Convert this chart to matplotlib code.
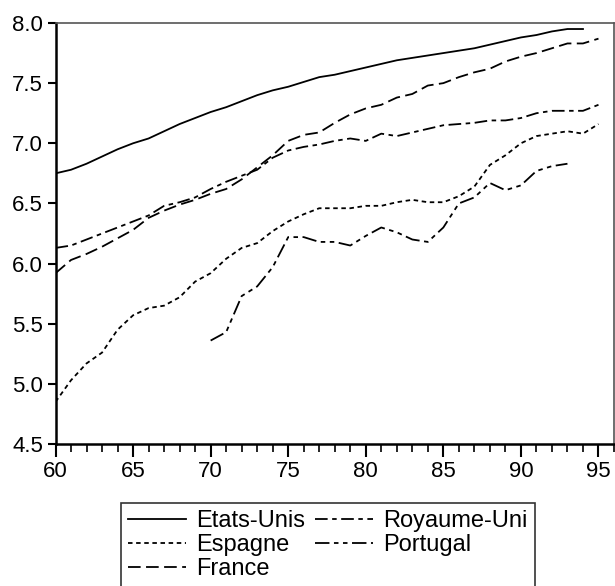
import matplotlib
matplotlib.use("Agg")
import matplotlib.pyplot as plt
from matplotlib.ticker import MultipleLocator, FormatStrFormatter

plt.rcParams['font.family'] = ['Liberation Sans', 'DejaVu Sans']

years_full = list(range(60, 96))
years_us = list(range(60, 95))
years_pt = list(range(70, 94))

etats_unis = [6.75, 6.78, 6.83, 6.89, 6.95, 7.00, 7.04, 7.10, 7.16, 7.21,
              7.26, 7.30, 7.35, 7.40, 7.44, 7.47, 7.51, 7.55, 7.57, 7.60,
              7.63, 7.66, 7.69, 7.71, 7.73, 7.75, 7.77, 7.79, 7.82, 7.85,
              7.88, 7.90, 7.93, 7.95, 7.95]
espagne = [4.85, 5.03, 5.17, 5.26, 5.45, 5.57, 5.63, 5.65, 5.72, 5.85,
           5.92, 6.04, 6.13, 6.17, 6.27, 6.35, 6.41, 6.46, 6.46, 6.46,
           6.48, 6.48, 6.51, 6.53, 6.51, 6.51, 6.56, 6.64, 6.82, 6.90,
           7.00, 7.06, 7.08, 7.10, 7.08, 7.16]
france = [5.92, 6.03, 6.08, 6.14, 6.21, 6.28, 6.38, 6.44, 6.49, 6.53,
          6.58, 6.62, 6.70, 6.80, 6.90, 7.02, 7.07, 7.09, 7.17, 7.24,
          7.29, 7.32, 7.38, 7.41, 7.48, 7.50, 7.55, 7.59, 7.62, 7.68,
          7.72, 7.75, 7.79, 7.83, 7.83, 7.87]
royaume_uni = [6.13, 6.15, 6.20, 6.25, 6.30, 6.35, 6.40, 6.48, 6.51, 6.55,
               6.62, 6.68, 6.73, 6.78, 6.88, 6.94, 6.97, 6.99, 7.02, 7.04,
               7.02, 7.08, 7.06, 7.09, 7.12, 7.15, 7.16, 7.17, 7.19, 7.19,
               7.21, 7.25, 7.27, 7.27, 7.27, 7.32]
portugal = [5.36, 5.43, 5.73, 5.81, 5.97, 6.22, 6.22, 6.18, 6.18, 6.15,
            6.23, 6.30, 6.26, 6.20, 6.18, 6.30, 6.50, 6.55, 6.67, 6.61,
            6.65, 6.77, 6.81, 6.83]

fig = plt.figure(figsize=(6.15, 5.86), dpi=100)
ax = fig.add_axes([55.5/615, 1-444/586, (614-55.5)/615, (444-23)/586])

lw = 1.3
ax.plot(years_us, etats_unis, color='black', lw=lw, linestyle='-', label='Etats-Unis')
ax.plot(years_full, espagne, color='black', lw=lw, linestyle=(0, (2.5, 2)), label='Espagne')
ax.plot(years_full, france, color='black', lw=lw, linestyle=(0, (7, 3)), label='France')
ax.plot(years_full, royaume_uni, color='black', lw=lw, linestyle=(0, (7, 2.5, 2.5, 2.5)), label='Royaume-Uni')
ax.plot(years_pt, portugal, color='black', lw=lw, linestyle=(0, (8, 2.5, 2.5, 2.5, 2.5, 2.5)), label='Portugal')

ax.set_xlim(60, 96)
ax.set_ylim(4.5, 8.0)
ax.xaxis.set_major_locator(MultipleLocator(5))
ax.xaxis.set_minor_locator(MultipleLocator(1))
ax.yaxis.set_major_locator(MultipleLocator(0.5))
ax.yaxis.set_major_formatter(FormatStrFormatter('%.1f'))

ax.tick_params(axis='x', which='major', direction='out', length=9, width=1.5, labelsize=16, pad=3)
ax.tick_params(axis='x', which='minor', direction='out', length=6, width=1.2)
ax.tick_params(axis='y', which='major', direction='out', length=6, width=1.5, labelsize=16, pad=3)

for s in ['left', 'bottom']:
    ax.spines[s].set_linewidth(1.8)
    ax.spines[s].set_color('black')
for s in ['top', 'right']:
    ax.spines[s].set_linewidth(1.2)
    ax.spines[s].set_color('#555555')

handles, labels = ax.get_legend_handles_labels()
leg = fig.legend(handles, labels, loc='upper left', bbox_to_anchor=(121/615, 1-503/586),
                 ncol=2, frameon=True, fancybox=False, fontsize=17,
                 handlelength=2.45, handletextpad=0.45, columnspacing=0.4,
                 labelspacing=0.08, borderpad=0.3, borderaxespad=0)
leg.get_frame().set_edgecolor('black')
leg.get_frame().set_linewidth(1.2)

fig.savefig('out.png', dpi=100)
